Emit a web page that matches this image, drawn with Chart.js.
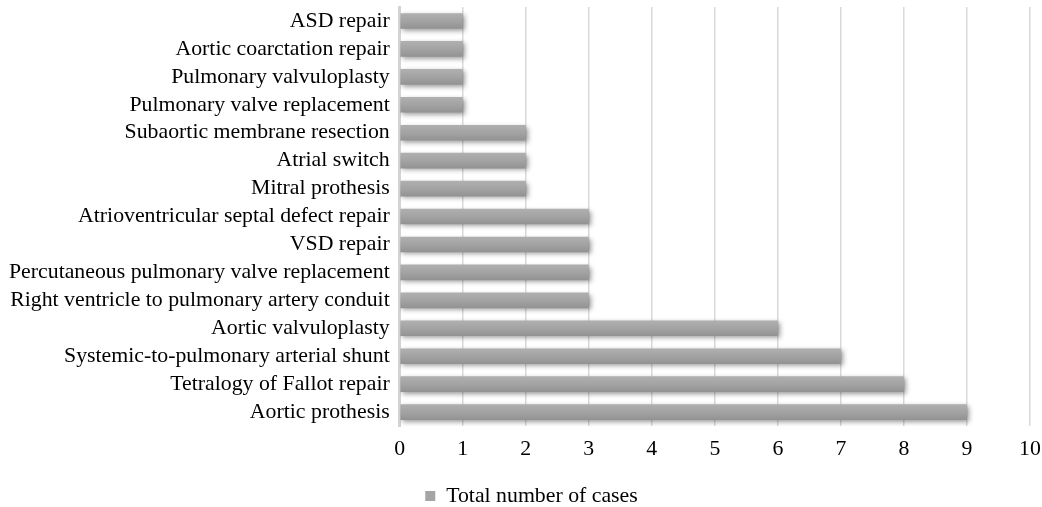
<!DOCTYPE html>
<html>
<head>
<meta charset="utf-8">
<script src="https://cdn.jsdelivr.net/npm/chart.js@4.4.0/dist/chart.umd.min.js"></script>
<style>
html,body{margin:0;padding:0;background:#fff;}
#wrap{width:1042px;height:507px;}
</style>
</head>
<body>
<div id="wrap"><canvas id="c"></canvas></div>
<script>
const categories = [
  "ASD repair",
  "Aortic coarctation repair",
  "Pulmonary valvuloplasty",
  "Pulmonary valve replacement",
  "Subaortic membrane resection",
  "Atrial switch",
  "Mitral prothesis",
  "Atrioventricular septal defect repair",
  "VSD repair",
  "Percutaneous pulmonary valve replacement",
  "Right ventricle to pulmonary artery conduit",
  "Aortic valvuloplasty",
  "Systemic-to-pulmonary arterial shunt",
  "Tetralogy of Fallot repair",
  "Aortic prothesis"
];
const totalCases = [1, 1, 1, 1, 2, 2, 2, 3, 3, 3, 3, 6, 7, 8, 9];
const seriesName = "Total number of cases";
const xTicks = [0, 1, 2, 3, 4, 5, 6, 7, 8, 9, 10];

const FONT = { family: 'Liberation Serif', size: 21.8 };

const shadowPlugin = {
  id: 'shadow',
  beforeDatasetsDraw(chart) {
    const ctx = chart.ctx;
    ctx.save();
    ctx.shadowColor = 'rgba(0,0,0,0.4)';
    ctx.shadowBlur = 5;
    ctx.shadowOffsetX = 2;
    ctx.shadowOffsetY = 2;
  },
  afterDatasetsDraw(chart) {
    chart.ctx.restore();
  }
};

const legendShift = {
  id: 'legendShift',
  afterLayout(chart) {
    const lg = chart.legend;
    if (lg) { lg.left += 17; lg.right += 17; }
  }
};

function barFill(context) {
  const chart = context.chart;
  const y = chart.scales && chart.scales.y;
  if (!y || context.type !== 'data') return '#a5a5a5';
  const c = y.getPixelForValue(context.dataIndex);
  const g = chart.ctx.createLinearGradient(0, c - 8, 0, c + 8);
  g.addColorStop(0, '#b0b0b0');
  g.addColorStop(0.5, '#a3a3a3');
  g.addColorStop(1, '#929292');
  return g;
}

new Chart(document.getElementById('c'), {
  type: 'bar',
  data: {
    labels: categories,
    datasets: [{
      label: seriesName,
      data: totalCases,
      backgroundColor: barFill,
      borderWidth: 0,
      categoryPercentage: 0.8,
      barPercentage: 0.7
    }]
  },
  options: {
    indexAxis: 'y',
    responsive: true,
    maintainAspectRatio: false,
    animation: false,
    layout: { padding: { left: -1, right: 12, top: 7, bottom: -10 } },
    plugins: {
      legend: {
        position: 'bottom',
        labels: {
          font: FONT,
          color: '#000',
          boxWidth: 10,
          boxHeight: 10,
          padding: 13,
          generateLabels(chart) {
            return [{ text: seriesName, fillStyle: '#a5a5a5', strokeStyle: '#a5a5a5', lineWidth: 0, datasetIndex: 0 }];
          }
        }
      },
      tooltip: { enabled: false }
    },
    scales: {
      x: {
        min: 0, max: 10,
        afterBuildTicks(scale) { scale.ticks = xTicks.map(v => ({ value: v })); },
        afterFit(scale) { scale.paddingLeft = 0; scale.paddingRight = 0; },
        grid: { color: '#d9d9d9', lineWidth: 1.5, drawTicks: false },
        border: { display: false },
        ticks: { font: FONT, color: '#000', padding: 10 }
      },
      y: {
        afterFit(scale) { scale.paddingTop = 0; scale.paddingBottom = 0; },
        grid: { display: false, drawTicks: false },
        border: { display: true, color: '#d4d4d4', width: 3 },
        ticks: { font: FONT, color: '#000', padding: 10, autoSkip: false }
      }
    }
  },
  plugins: [shadowPlugin, legendShift]
});
</script>
</body>
</html>
